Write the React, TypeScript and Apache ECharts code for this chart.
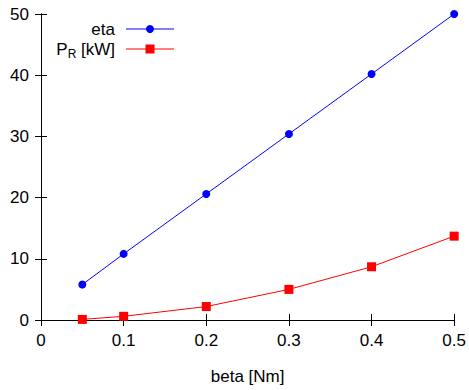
import React, { useEffect, useRef } from "react";
import * as echarts from "echarts";

const betaValues = [0.05, 0.1, 0.2, 0.3, 0.4, 0.5];
const etaValues = [5.8, 10.8, 20.6, 30.4, 40.2, 50.0];
const prValues = [0.1, 0.6, 2.2, 5.0, 8.7, 13.7];
const xTicks = [0, 0.1, 0.2, 0.3, 0.4, 0.5];

const FONT = "Liberation Sans, Arial, sans-serif";

export default function App() {
  const ref = useRef<HTMLDivElement>(null);
  useEffect(() => {
    if (!ref.current) return;
    const chart = echarts.init(ref.current, null, { renderer: "svg" });
    const axisLine = { show: true, lineStyle: { color: "#000", width: 1 } };
    const tick = { show: true, inside: true, length: 6, lineStyle: { color: "#000" } };
    const xFmt = (v: number) => {
      const t = xTicks.find((k) => Math.abs(k - v) < 1e-9);
      return t === undefined ? "" : String(t);
    };
    chart.setOption({
      animation: false,
      backgroundColor: "#fff",
      textStyle: { fontFamily: FONT },
      grid: { left: 41, right: 13, top: 14, bottom: 65, containLabel: false },
      xAxis: [
        {
          type: "value",
          min: 0,
          max: 0.5,
          interval: 0.1,
          position: "bottom",
          name: "beta [Nm]",
          nameLocation: "middle",
          nameGap: 48,
          nameTextStyle: { fontSize: 17, color: "#000", fontFamily: FONT },
          axisLine,
          axisTick: tick,
          splitLine: { show: false },
          axisLabel: { fontSize: 17, color: "#000", margin: 12, fontFamily: FONT, formatter: xFmt },
        },
        {
          type: "value",
          min: 0,
          max: 0.5,
          interval: 0.1,
          position: "top",
          axisLine,
          axisTick: tick,
          splitLine: { show: false },
          axisLabel: { show: false },
        },
      ],
      yAxis: [
        {
          type: "value",
          min: 0,
          max: 50,
          interval: 10,
          position: "left",
          axisLine,
          axisTick: tick,
          splitLine: { show: false },
          axisLabel: { fontSize: 17, color: "#000", margin: 12, fontFamily: FONT },
        },
        {
          type: "value",
          min: 0,
          max: 50,
          interval: 10,
          position: "right",
          axisLine,
          axisTick: tick,
          splitLine: { show: false },
          axisLabel: { show: false },
        },
      ],
      series: [
        {
          name: "eta",
          type: "line",
          data: betaValues.map((b, i) => [b, etaValues[i]]),
          symbol: "circle",
          symbolSize: 8,
          lineStyle: { color: "#0000ff", width: 1 },
          itemStyle: { color: "#0000ff" },
          z: 3,
        },
        {
          name: "P_R [kW]",
          type: "line",
          data: betaValues.map((b, i) => [b, prValues[i]]),
          symbol: "rect",
          symbolSize: 9,
          lineStyle: { color: "#ff0000", width: 1 },
          itemStyle: { color: "#ff0000" },
          z: 3,
        },
      ],
      graphic: [
        {
          type: "text",
          x: 115,
          y: 29,
          style: {
            text: "eta",
            fontSize: 17,
            fontFamily: FONT,
            fill: "#000",
            textAlign: "right",
            textVerticalAlign: "middle",
          },
        },
        {
          type: "line",
          shape: { x1: 126, y1: 29, x2: 174, y2: 29 },
          style: { stroke: "#0000ff", lineWidth: 1 },
        },
        {
          type: "circle",
          shape: { cx: 150, cy: 29, r: 4 },
          style: { fill: "#0000ff" },
        },
        {
          type: "text",
          x: 115,
          y: 49,
          style: {
            text: "{m|P}{s|R}{m| [kW]}",
            fontFamily: FONT,
            fill: "#000",
            textAlign: "right",
            textVerticalAlign: "middle",
            rich: {
              m: { fontSize: 17, fontFamily: FONT, fill: "#000" },
              s: { fontSize: 12, fontFamily: FONT, fill: "#000", padding: [10, 0, 0, 0] },
            },
          },
        },
        {
          type: "line",
          shape: { x1: 126, y1: 49, x2: 174, y2: 49 },
          style: { stroke: "#ff0000", lineWidth: 1 },
        },
        {
          type: "rect",
          shape: { x: 145.5, y: 44.5, width: 9, height: 9 },
          style: { fill: "#ff0000" },
        },
      ],
    });
    return () => chart.dispose();
  }, []);
  return <div ref={ref} style={{ width: 469, height: 390, position: "absolute", left: 0, top: 0 }} />;
}
